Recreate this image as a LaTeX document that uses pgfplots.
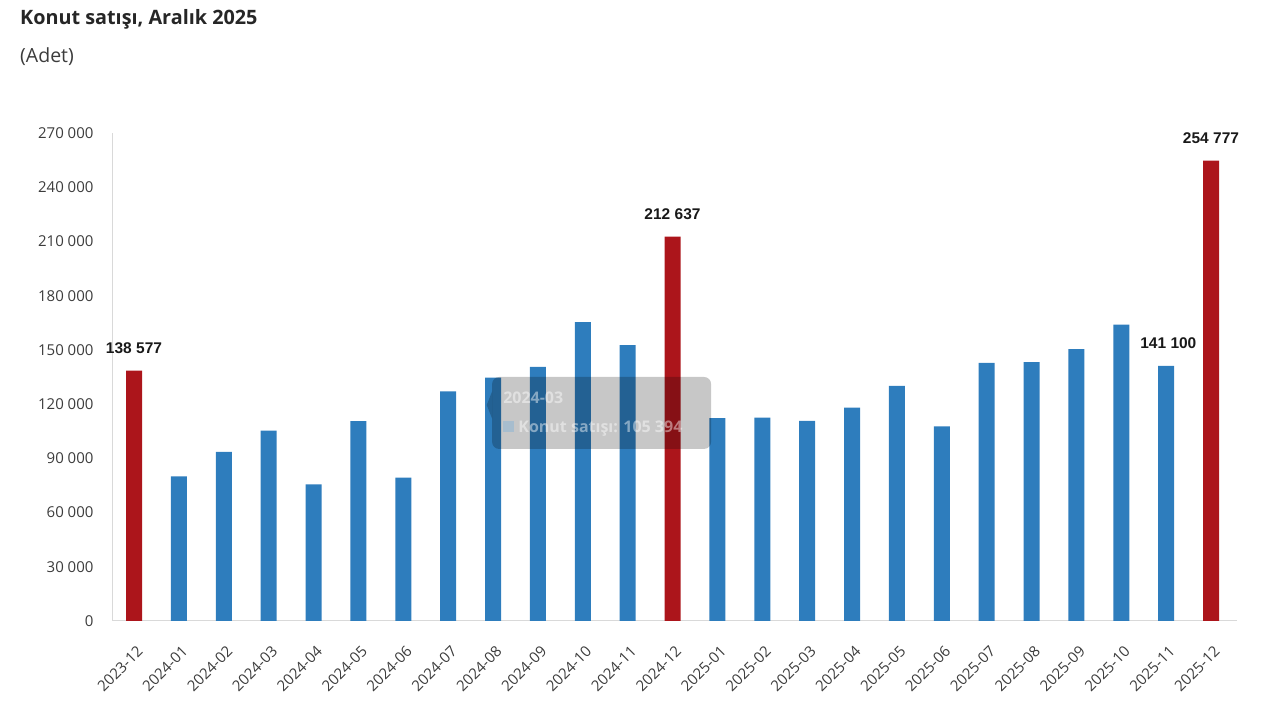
\documentclass[border=0pt]{standalone}
\usepackage{pgfplots}
\pgfplotsset{compat=1.18}
\usepackage{fontspec}
\setmainfont{Open Sans}
\newfontfamily\arialfont{Liberation Sans}
\definecolor{barblue}{RGB}{46,125,189}
\definecolor{barred}{RGB}{172,21,27}
\definecolor{axisgray}{RGB}{217,217,217}
\definecolor{textgray}{RGB}{60,60,60}
\begin{document}
\begin{tikzpicture}[x=1pt,y=1pt]
\path[use as bounding box] (0,0) rectangle (1280,720);
\node[anchor=base west, inner sep=0pt, font=\bfseries\fontsize{19.8}{22}\selectfont, text=black!85] at (20,695) {Konut satışı, Aralık 2025};
\node[anchor=base west, inner sep=0pt, font=\fontsize{19.5}{22}\selectfont, text=textgray] at (20,657) {(Adet)};
\begin{axis}[
  at={(113pt,99pt)}, anchor=south west,
  width=1124pt, height=488pt, scale only axis,
  ymin=0, ymax=270000, xmin=-0.468, xmax=24.58,
  axis x line*=bottom, axis y line*=left,
  axis line style={axisgray, line width=1pt, -},
  major tick length=0pt,
  ytick={0,30000,...,270000},
  yticklabels={0,30 000,60 000,90 000,120 000,150 000,180 000,210 000,240 000,270 000},
  scaled y ticks=false,
  yticklabel style={font=\fontsize{15}{18}\selectfont, text=textgray, xshift=-16pt},
  xtick={0,...,24},
  xticklabels={2023-12,2024-01,2024-02,2024-03,2024-04,2024-05,2024-06,2024-07,2024-08,2024-09,2024-10,2024-11,2024-12,2025-01,2025-02,2025-03,2025-04,2025-05,2025-06,2025-07,2025-08,2025-09,2025-10,2025-11,2025-12},
  xticklabel style={xshift=2pt, yshift=-19pt, rotate=45, anchor=north east, font=\fontsize{15}{18}\selectfont, text=textgray},
  ybar, bar width=16pt,
  clip=false,
]
\addplot[fill=barblue, draw=none, bar shift=0pt] coordinates {
(1,80080) (2,93606) (3,105394) (4,75569) (5,110588) (6,79313) (7,127079) (8,134592) (9,140565) (10,165364) (11,152631)
(13,112176) (14,112527) (15,110672) (16,118058) (17,130025) (18,107723) (19,142750) (20,143200) (21,150400) (22,164000) (23,141100)
};
\addplot[fill=barred, draw=none, bar shift=0pt,
  nodes near coords, point meta=explicit symbolic,
  every node near coord/.append style={font=\arialfont\bfseries\fontsize{15.5}{18}\selectfont, text=black!90, yshift=13pt}]
  coordinates {(0,138577) [138 577] (12,212637) [212 637] (24,254777) [254 777]};
\node[font=\arialfont\bfseries\fontsize{15.5}{18}\selectfont, text=black!90, anchor=south] at (axis cs:23.05,141100) [yshift=14pt] {141 100};
% tooltip overlay
\fill[black, opacity=0.22, rounded corners=7pt] (axis cs:7.98,95200) rectangle (axis cs:12.86,135000);
\fill[black, opacity=0.22] (axis cs:7.98,112000) -- (axis cs:7.86,119500) -- (axis cs:7.98,127000) -- cycle;
\node[anchor=west, font=\bfseries\fontsize{16}{19}\selectfont, text=white, opacity=0.45] at (axis cs:8.15,123500) {2024-03};
\node[anchor=west, font=\bfseries\fontsize{16}{19}\selectfont, text=white, opacity=0.45] at (axis cs:8.15,106500) {\textcolor{barblue!60}{\rule{11pt}{11pt}}\ Konut satışı: 105 394};
\end{axis}
\end{tikzpicture}
\end{document}
